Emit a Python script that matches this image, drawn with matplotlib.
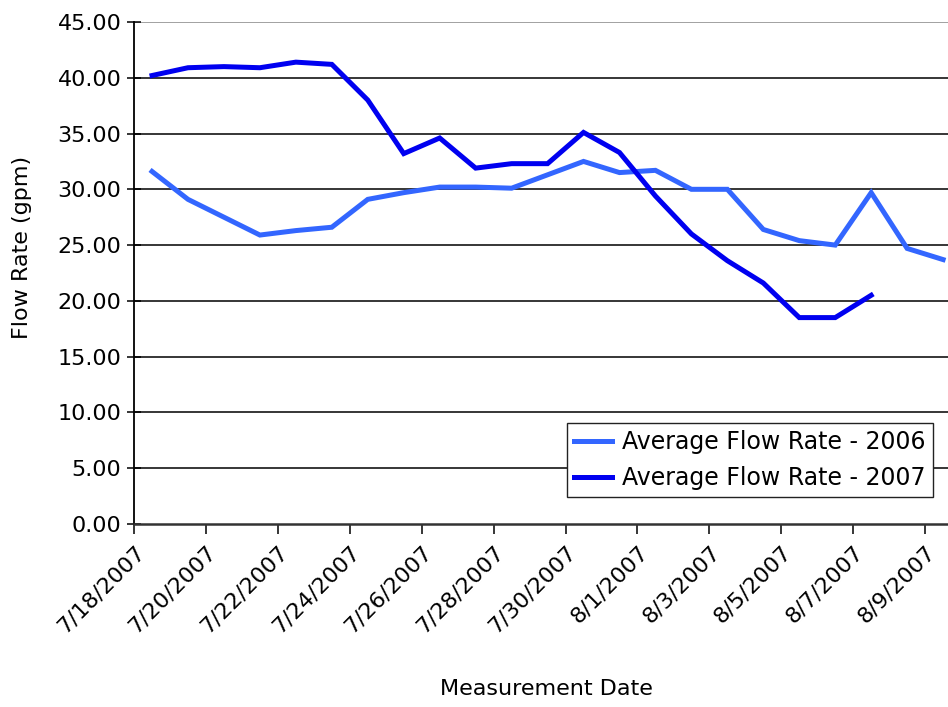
import matplotlib
matplotlib.use("Agg")
import matplotlib.pyplot as plt
import pandas as pd

# data
dates_2006 = ["2007-07-18", "2007-07-19", "2007-07-20", "2007-07-21", "2007-07-22",
              "2007-07-23", "2007-07-24", "2007-07-25", "2007-07-26", "2007-07-27",
              "2007-07-28", "2007-07-29", "2007-07-30", "2007-07-31", "2007-08-01",
              "2007-08-02", "2007-08-03", "2007-08-04", "2007-08-05", "2007-08-06",
              "2007-08-07", "2007-08-08", "2007-08-09"]
flow_2006 = [31.6, 29.1, 27.5, 25.9, 26.3, 26.6, 29.1, 29.7, 30.2, 30.2,
             30.1, 31.3, 32.5, 31.5, 31.7, 30.0, 30.0, 26.4, 25.4, 25.0,
             29.7, 24.7, 23.7]

dates_2007 = dates_2006[:21]
flow_2007 = [40.2, 40.9, 41.0, 40.9, 41.4, 41.2, 38.0, 33.2, 34.6, 31.9,
             32.3, 32.3, 35.1, 33.3, 29.4, 26.0, 23.6, 21.6, 18.5, 18.5, 20.5]

yticks = [0, 5, 10, 15, 20, 25, 30, 35, 40, 45]
xtick_dates = ["2007-07-18", "2007-07-20", "2007-07-22", "2007-07-24", "2007-07-26",
               "2007-07-28", "2007-07-30", "2007-08-01", "2007-08-03", "2007-08-05",
               "2007-08-07", "2007-08-09"]

plt.rcParams['font.family'] = ['DejaVu Sans']

fig = plt.figure(figsize=(9.48, 7.07), dpi=100)
ax = fig.add_axes([0.1414, 0.2589, 0.8724, 0.71])

# excel puts the points in the middle of each day
half_day = pd.Timedelta(hours=12)
x06 = pd.to_datetime(dates_2006) + half_day
x07 = pd.to_datetime(dates_2007) + half_day

ax.plot(x06, flow_2006, color="#3366FF", lw=3.6, label="Average Flow Rate - 2006",
        solid_joinstyle="miter", zorder=3)
ax.plot(x07, flow_2007, color="#0000F0", lw=3.6, label="Average Flow Rate - 2007",
        solid_joinstyle="miter", zorder=4)

ax.set_ylim(0, 45)
ax.set_yticks(yticks)
ax.set_yticklabels(["%.2f" % v for v in yticks])
ax.set_xlim(pd.Timestamp("2007-07-18"), pd.Timestamp("2007-08-10"))
ticks = pd.to_datetime(xtick_dates)
ax.set_xticks(ticks)
ax.set_xticklabels([f"{d.month}/{d.day}/{d.year}" for d in ticks],
                   rotation=45, ha="right", rotation_mode="anchor")

for v in yticks[1:]:
    ax.axhline(v, color="#888888" if v == 45 else "black", lw=1.1, zorder=1)

ax.spines["top"].set_visible(False)
ax.spines["right"].set_visible(False)
ax.spines["left"].set_linewidth(1.3)
ax.spines["bottom"].set_color("#333333")
ax.spines["bottom"].set_linewidth(1.8)
ax.tick_params(axis="y", direction="inout", length=10, width=1.1, labelsize=16, pad=4)
ax.tick_params(axis="x", direction="out", length=7, width=1.1, labelsize=16, pad=6)

fig.text(22 / 948, 1 - 247 / 707, "Flow Rate (gpm)", fontsize=16, rotation=90,
         ha="center", va="center")
fig.text(0.576, 0.025, "Measurement Date", fontsize=16, ha="center", va="center")

leg = ax.legend(loc="upper left", bbox_to_anchor=(567 / 948, 1 - 423 / 707),
                bbox_transform=fig.transFigure, fontsize=17, frameon=True,
                fancybox=False, framealpha=1, edgecolor="#222222",
                handlelength=1.6, handletextpad=0.45, borderpad=0.3,
                labelspacing=0.5, borderaxespad=0)
leg.get_frame().set_linewidth(1.0)

fig.savefig("out.png", dpi=100)
